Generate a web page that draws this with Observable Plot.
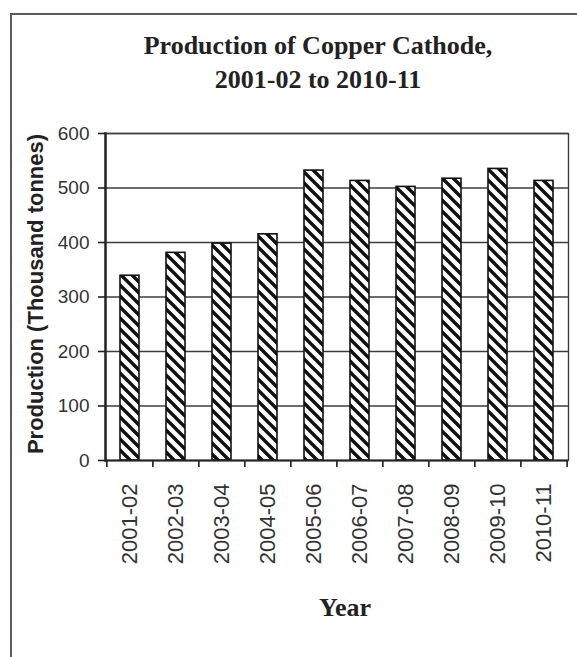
<!DOCTYPE html>
<html>
<head>
<meta charset="utf-8">
<script src="https://cdn.jsdelivr.net/npm/d3@7"></script>
<script src="https://cdn.jsdelivr.net/npm/@observablehq/plot@0.6"></script>
<style>
  html, body { margin: 0; padding: 0; background: #fff; }
  #wrap { position: relative; width: 577px; height: 657px; overflow: hidden; }
  #border { position: absolute; left: 10px; top: 13px; width: 600px; height: 700px;
            border-left: 2px solid #5a5a5a; border-top: 2px solid #5a5a5a; }
  #chart { position: absolute; left: 0; top: 0; }
</style>
</head>
<body>
<div id="wrap"><div id="border"></div><div id="chart"></div></div>
<script>
const years = ["2001-02","2002-03","2003-04","2004-05","2005-06","2006-07","2007-08","2008-09","2009-10","2010-11"];
const production = [339, 381, 398, 415, 532, 513, 502, 517, 535, 513];
const yTicks = [0, 100, 200, 300, 400, 500, 600];
const titleLines = ["Production of Copper Cathode,", "2001-02 to 2010-11"];
const yLabel = "Production (Thousand tonnes)";
const xLabel = "Year";

const data = years.map((y, i) => ({year: y, value: production[i]}));

const W = 577, H = 657;
const mL = 105, mR = 9, mT = 133, mB = 197;
const step = (W - mL - mR) / years.length;
const serif = "'Liberation Serif', 'Times New Roman', serif";
const sans = "'Liberation Sans', Arial, sans-serif";

const plot = Plot.plot({
  width: W, height: H,
  marginLeft: mL, marginRight: mR, marginTop: mT, marginBottom: mB,
  style: {fontFamily: sans, background: "transparent", color: "#222"},
  x: {domain: years, paddingInner: 0.58, paddingOuter: 0.29, label: null},
  y: {domain: [0, 600], label: null},
  marks: [
    Plot.ruleY(yTicks.filter(d => d > 0), {stroke: "#3c3c3c", strokeWidth: 1.4}),
    Plot.frame({stroke: "#3c3c3c", strokeWidth: 1.4}),
    Plot.barY(data, {x: "year", y: "value", fill: "url(#hatch)", stroke: "#111", strokeWidth: 1.6}),
    Plot.ruleY([0], {stroke: "#222", strokeWidth: 2}),
    Plot.frame({anchor: "left", stroke: "#222", strokeWidth: 2.4}),
    Plot.ruleX(years, {x: d => d, y1: 0, y2: 0, insetBottom: -7, dx: -step / 2, stroke: "#222", strokeWidth: 1.6}),
    Plot.ruleX(years.slice(-1), {x: d => d, y1: 0, y2: 0, insetBottom: -7, dx: step / 2, stroke: "#222", strokeWidth: 1.6}),
    Plot.axisY({ticks: yTicks, tickSize: 7, tickPadding: 9, fontSize: 19, label: null, fill: "#333", stroke: "#222", strokeWidth: 1.6}),
    Plot.axisX({tickSize: 0, tickPadding: 23, tickRotate: -90, fontSize: 22, label: null, fill: "#333"}),
    Plot.text([titleLines[0]], {frameAnchor: "top", dx: -19, dy: -80, lineAnchor: "bottom", fontFamily: serif, fontWeight: "bold", fontSize: 26, fill: "#222"}),
    Plot.text([titleLines[1]], {frameAnchor: "top", dx: -19, dy: -46, lineAnchor: "bottom", fontFamily: serif, fontWeight: "bold", fontSize: 26, fill: "#222"}),
    Plot.text([yLabel], {frameAnchor: "left", textAnchor: "middle", rotate: -90, dx: -63, dy: -3, lineAnchor: "bottom", fontWeight: "bold", fontSize: 22, fill: "#222"}),
    Plot.text([xLabel], {frameAnchor: "bottom", dx: 8, dy: 155, lineAnchor: "bottom", fontFamily: serif, fontWeight: "bold", fontSize: 26, fill: "#222"})
  ]
});

const svg = d3.select(plot);
const defs = svg.insert("defs", ":first-child");
const pat = defs.append("pattern")
  .attr("id", "hatch").attr("patternUnits", "userSpaceOnUse")
  .attr("width", 11).attr("height", 11);
pat.append("rect").attr("width", 11).attr("height", 11).attr("fill", "#fff");
pat.append("path")
  .attr("d", "M-2,-2 L13,13 M-13,-2 L2,13 M9,-2 L24,13")
  .attr("stroke", "#111").attr("stroke-width", 3.4);

document.getElementById("chart").appendChild(plot);
</script>
</body>
</html>
